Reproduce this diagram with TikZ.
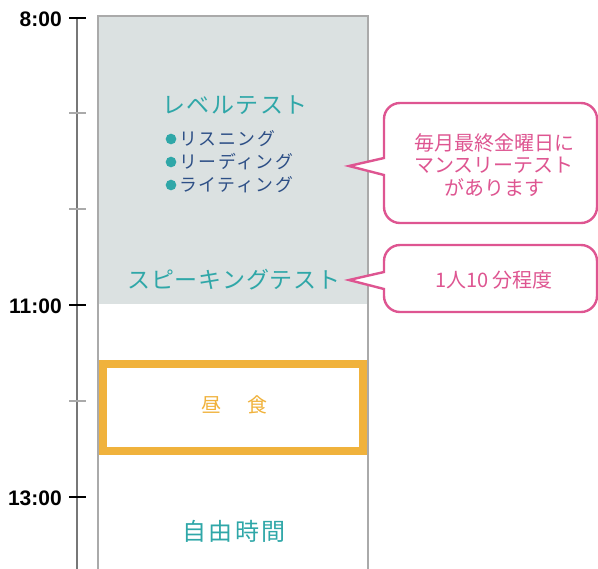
\documentclass[tikz,border=0pt]{standalone}
\usepackage{fontspec}
\newfontfamily\jp{Noto Sans CJK JP}
\newfontfamily\jpsp{Noto Sans CJK JP}[LetterSpace=6]
\newfontfamily\jpspc{Noto Sans CJK JP}[LetterSpace=4]
\newfontfamily\jpspb{Noto Sans CJK JP}[LetterSpace=9]
\newfontfamily\timefont{Liberation Sans}
\definecolor{teal1}{HTML}{2FA7A8}
\definecolor{navy1}{HTML}{2D4F86}
\definecolor{pink1}{HTML}{DE5591}
\definecolor{orange1}{HTML}{F0B23C}
\definecolor{fill1}{HTML}{DBE1E1}
\definecolor{border1}{HTML}{AAAAAA}
\definecolor{axis1}{HTML}{777777}
\tikzset{
  timelabel/.style={anchor=east,inner sep=0pt,font=\timefont\bfseries\fontsize{15.75}{16}\selectfont},
  majortick/.style={draw=black,line width=1.6pt},
  minortick/.style={draw=border1,line width=1.2pt},
  title/.style={inner sep=0pt,text=teal1,font=\jpsp\fontsize{17.25}{20}\selectfont},
  item/.style={inner sep=0pt,anchor=west,text=navy1,font=\jpspb\fontsize{13.4}{15}\selectfont},
  dot/.style={circle,fill=teal1,inner sep=0pt,minimum size=8pt},
  callout/.style={draw=pink1,line width=1.8pt,fill=white},
  callouttext/.style={inner sep=0pt,text=pink1,align=center,font=\jp\fontsize{15}{16.9}\selectfont},
}
\begin{document}
\begin{tikzpicture}[x=0.75pt,y=-0.75pt]
\useasboundingbox (0,0) rectangle (598,568);
% main column
\fill[fill1] (98,16) rectangle (368,304);
\draw[border1,line width=1.2pt] (98,580) -- (98,16) -- (368,16) -- (368,580);
% timeline
\draw[axis1,line width=1.8pt] (77,17) -- (77,580);
\foreach \y in {113,209,401} \draw[minortick] (69,\y) -- (86,\y);
\foreach \y in {18,305,497} \draw[majortick] (69,\y) -- (86,\y);
\node[timelabel] (t8) at (62,19) {8:00};
\node[timelabel] (t11) at (62,306) {11:00};
\node[timelabel] (t13) at (62,498) {13:00};
% level test
\node[title] (level) at (235,105) {レベルテスト};
\node[dot] (d1) at (171,139) {};
\node[dot] (d2) at (171,162) {};
\node[dot] (d3) at (171,185) {};
\node[item] (i1) at (179,139) {リスニング};
\node[item] (i2) at (179,162) {リーディング};
\node[item] (i3) at (179,185) {ライティング};
\node[title,font=\jpspc\fontsize{17.25}{20}\selectfont] (speak) at (234,280) {スピーキングテスト};
% lunch
\draw[orange1,line width=6pt] (103,363.5) rectangle (363,450.5);
\node[inner sep=0pt,text=orange1,font=\jp\fontsize{15}{16}\selectfont] (hiru) at (211,405) {昼};
\node[inner sep=0pt,text=orange1,font=\jp\fontsize{15}{16}\selectfont] (shoku) at (257,405) {食};
% free time
\node[inner sep=0pt,text=teal1,font=\jpspb\fontsize{18}{20}\selectfont] (free) at (234,531) {自由時間};
% callout 1
\draw[callout] (384,175) [rounded corners=12] -- (384,223) -- (597,223) -- (597,103) -- (384,103) [sharp corners] -- (384,158) -- (349,166) -- cycle;
\node[callouttext] (c1) at (494,165) {毎月最終金曜日に\\マンスリーテスト\\があります};
% callout 2
\draw[callout] (384,289) [rounded corners=12] -- (384,312) -- (597,312) -- (597,245) -- (384,245) [sharp corners] -- (384,272) -- (349,280) -- cycle;
\node[callouttext] (c2) at (494,280) {1人10 分程度};
\end{tikzpicture}
\end{document}
